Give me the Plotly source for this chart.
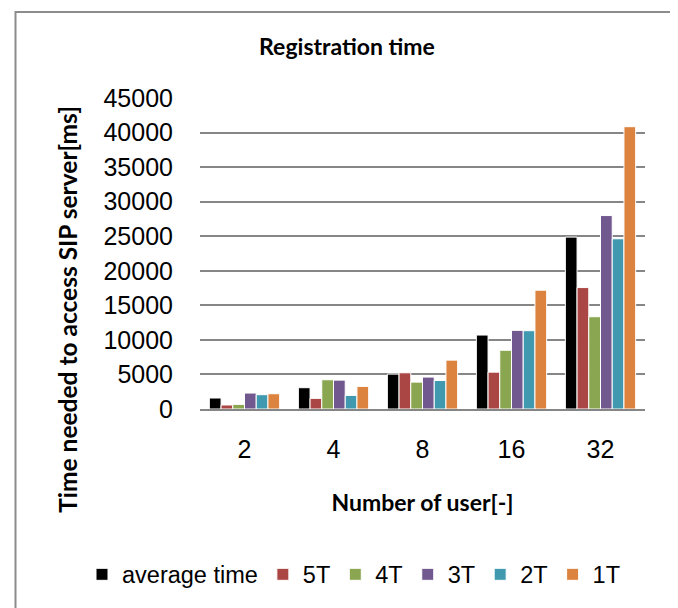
import plotly.graph_objects as go

categories = ["2", "4", "8", "16", "32"]
series_names = ["average time", "5T", "4T", "3T", "2T", "1T"]
avg_time = [1590, 3080, 5050, 10700, 24870]
t5 = [580, 1540, 5240, 5330, 17570]
t4 = [670, 4230, 3890, 8500, 13350]
t3 = [2310, 4180, 4620, 11380, 27990]
t2 = [2070, 1970, 4130, 11330, 24630]
t1 = [2210, 3270, 7070, 17190, 40850]
y_ticks = [0, 5000, 10000, 15000, 20000, 25000, 30000, 35000, 40000, 45000]

values = [avg_time, t5, t4, t3, t2, t1]
colors = ["#000000", "#aa4644", "#8aa650", "#71598f", "#4199b0", "#dc843f"]

fig = go.Figure()
for name, vals, col in zip(series_names, values, colors):
    fig.add_trace(go.Bar(
        x=categories, y=vals, name=name,
        marker=dict(color=col, line=dict(color="white", width=1)),
    ))

OFF = 8  # page body margin
W, H = 678 - OFF, 608 - OFF
L, T = 200 - OFF, 98 - OFF
R = W - (645 - OFF)
B = H - (409.3 - OFF)
pw = W - L - R
ph = H - T - B


def px(x):
    return (x - OFF - L) / pw


def py(y):
    return (H - B - (y - OFF)) / ph


fig.update_layout(
    width=W, height=H,
    margin=dict(l=L, r=R, t=T, b=B),
    paper_bgcolor="white", plot_bgcolor="white",
    barmode="group", bargap=0.21, bargroupgap=0,
    title=dict(text="<b>Registration time</b>", x=(347 - OFF) / W, xanchor="center",
               y=1 - (47 - OFF) / H, yanchor="middle",
               font=dict(family="Lato", size=23, color="black")),
    font=dict(family="Liberation Sans", color="black"),
    showlegend=True,
    legend=dict(orientation="h", x=px(82), xanchor="left",
                y=py(575), yanchor="middle",
                font=dict(family="Liberation Sans", size=23.5, color="black"),
                itemwidth=30, traceorder="normal"),
    xaxis=dict(
        type="category",
        showline=True, linecolor="#868686", linewidth=2,
        ticks="", tickfont=dict(family="Liberation Sans", size=25, color="black"),
        ticklabelstandoff=17,
        title=dict(text="<b>Number of user[-]</b>", standoff=33,
                   font=dict(family="Lato", size=23, color="black")),
        automargin=False,
    ),
    yaxis=dict(
        range=[0, 45000], tickvals=y_ticks, ticktext=[str(v) for v in y_ticks],
        showgrid=True, gridcolor="#868686", gridwidth=2,
        zeroline=False, showline=False,
        ticks="", tickfont=dict(family="Liberation Sans", size=25, color="black"),
        ticklabelstandoff=26,
        automargin=False,
    ),
    annotations=[dict(
        text="<b>Time needed to access SIP server[ms]</b>",
        xref="paper", yref="paper", x=px(68), y=py(310),
        xanchor="center", yanchor="middle", textangle=-90, showarrow=False,
        font=dict(family="Lato", size=24.5, color="black"),
    )],
)

fig.add_shape(type="rect", xref="paper", yref="paper",
              x0=px(15.5), x1=px(673),
              y0=py(650), y1=py(12),
              line=dict(color="#8c8c8c", width=2), fillcolor="rgba(0,0,0,0)", layer="below")

fig.write_html("out.html")
